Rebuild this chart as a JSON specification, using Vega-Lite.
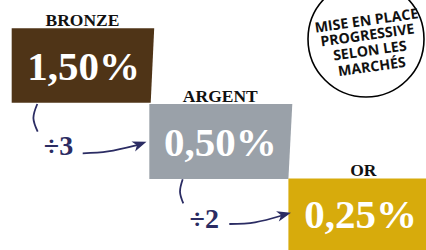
{
  "$schema": "https://vega.github.io/schema/vega-lite/v6.json",
  "width": 426,
  "height": 250,
  "padding": 0,
  "autosize": {"type": "none"},
  "background": "#ffffff",
  "config": {"view": {"stroke": null}},
  "datasets": {
    "boxes": [
      {"box": "bronze", "y": 28.3, "x": 11.7, "x2": 154.2},
      {"box": "bronze", "y": 102.8, "x": 11.7, "x2": 150.7},
      {"box": "argent", "y": 104.0, "x": 149.3, "x2": 292.3},
      {"box": "argent", "y": 179.0, "x": 149.3, "x2": 288.4},
      {"box": "or", "y": 178.4, "x": 288.4, "x2": 430},
      {"box": "or", "y": 255, "x": 288.4, "x2": 430}
    ],
    "labels": [
      {"text": "BRONZE", "x": 82.5, "y": 26.2},
      {"text": "ARGENT", "x": 220.3, "y": 102.2},
      {"text": "OR", "x": 363.3, "y": 176.2}
    ],
    "values": [
      {"text": "1,50%", "x": 83.5, "y": 80.3},
      {"text": "0,50%", "x": 220.3, "y": 155.5},
      {"text": "0,25%", "x": 360.5, "y": 228.2}
    ],
    "ratios": [
      {"text": "÷3", "x": 58.5, "y": 155.2},
      {"text": "÷2", "x": 204.3, "y": 228.2}
    ],
    "curves": [
      {"curve": "b1", "order": 1, "x": 37.3, "y": 104.0},
      {"curve": "b1", "order": 2, "x": 33.4, "y": 118.0},
      {"curve": "b1", "order": 3, "x": 37.7, "y": 131.7},
      {"curve": "a1", "order": 1, "x": 82.7, "y": 153.3},
      {"curve": "a1", "order": 2, "x": 108.0, "y": 151.4},
      {"curve": "a1", "order": 3, "x": 137.0, "y": 145.0},
      {"curve": "b2", "order": 1, "x": 182.7, "y": 179.3},
      {"curve": "b2", "order": 2, "x": 180.0, "y": 191.7},
      {"curve": "b2", "order": 3, "x": 183.3, "y": 203.3},
      {"curve": "a2", "order": 1, "x": 229.3, "y": 224.0},
      {"curve": "a2", "order": 2, "x": 255.0, "y": 222.3},
      {"curve": "a2", "order": 3, "x": 282.0, "y": 215.5}
    ],
    "head1": [{"x": 139.9, "y": 144.1}],
    "head2": [{"x": 284.2, "y": 214.5}],
    "badge": [{"x": 366, "y": 39}],
    "badgeText": [
      {"text": "MISE EN PLACE", "x": 366.5, "y": 21.5},
      {"text": "PROGRESSIVE", "x": 367.5, "y": 36.0},
      {"text": "SELON LES", "x": 370.0, "y": 51.5},
      {"text": "MARCHÉS", "x": 372.0, "y": 67.5}
    ]
  },
  "encoding": {
    "x": {"field": "x", "type": "quantitative", "scale": {"domain": [0, 426], "nice": false, "zero": false}, "axis": null},
    "y": {"field": "y", "type": "quantitative", "scale": {"domain": [0, 250], "nice": false, "zero": false, "reverse": true}, "axis": null}
  },
  "layer": [
    {
      "data": {"name": "boxes"},
      "mark": {"type": "area", "orient": "horizontal", "clip": true},
      "encoding": {
        "x2": {"field": "x2"},
        "color": {"field": "box", "type": "nominal", "scale": {"domain": ["bronze", "argent", "or"], "range": ["#4f3417", "#9aa1a9", "#d7ab0c"]}, "legend": null}
      }
    },
    {
      "data": {"name": "labels"},
      "mark": {"type": "text", "font": "Liberation Serif", "fontWeight": "bold", "fontSize": 17.5, "color": "#111111", "align": "center", "baseline": "alphabetic"},
      "encoding": {"text": {"field": "text"}}
    },
    {
      "data": {"name": "values"},
      "mark": {"type": "text", "font": "Liberation Serif", "fontWeight": "bold", "fontSize": 41, "color": "#ffffff", "align": "center", "baseline": "alphabetic"},
      "encoding": {"text": {"field": "text"}}
    },
    {
      "data": {"name": "ratios"},
      "mark": {"type": "text", "font": "Liberation Serif", "fontWeight": "bold", "fontSize": 28, "color": "#2b2c63", "align": "center", "baseline": "alphabetic"},
      "encoding": {"text": {"field": "text"}}
    },
    {
      "data": {"name": "curves"},
      "mark": {"type": "line", "interpolate": "natural", "color": "#2b2c63", "strokeWidth": 1.8},
      "encoding": {"detail": {"field": "curve"}, "order": {"field": "order"}}
    },
    {
      "data": {"name": "head1"},
      "mark": {"type": "point", "shape": "M1,0L-1,-0.75L-0.45,0L-1,0.75Z", "size": 196, "filled": true, "color": "#2b2c63", "opacity": 1, "angle": -20}
    },
    {
      "data": {"name": "head2"},
      "mark": {"type": "point", "shape": "M1,0L-1,-0.75L-0.45,0L-1,0.75Z", "size": 196, "filled": true, "color": "#2b2c63", "opacity": 1, "angle": -15}
    },
    {
      "data": {"name": "badge"},
      "mark": {"type": "point", "shape": "circle", "size": 13456, "filled": false, "stroke": "#000000", "strokeWidth": 1.6, "opacity": 1, "clip": true}
    },
    {
      "data": {"name": "badgeText"},
      "mark": {"type": "text", "font": "Open Sans", "fontWeight": "bold", "fontSize": 14.2, "color": "#111111", "align": "center", "baseline": "middle", "angle": -8},
      "encoding": {"text": {"field": "text"}}
    }
  ]
}
